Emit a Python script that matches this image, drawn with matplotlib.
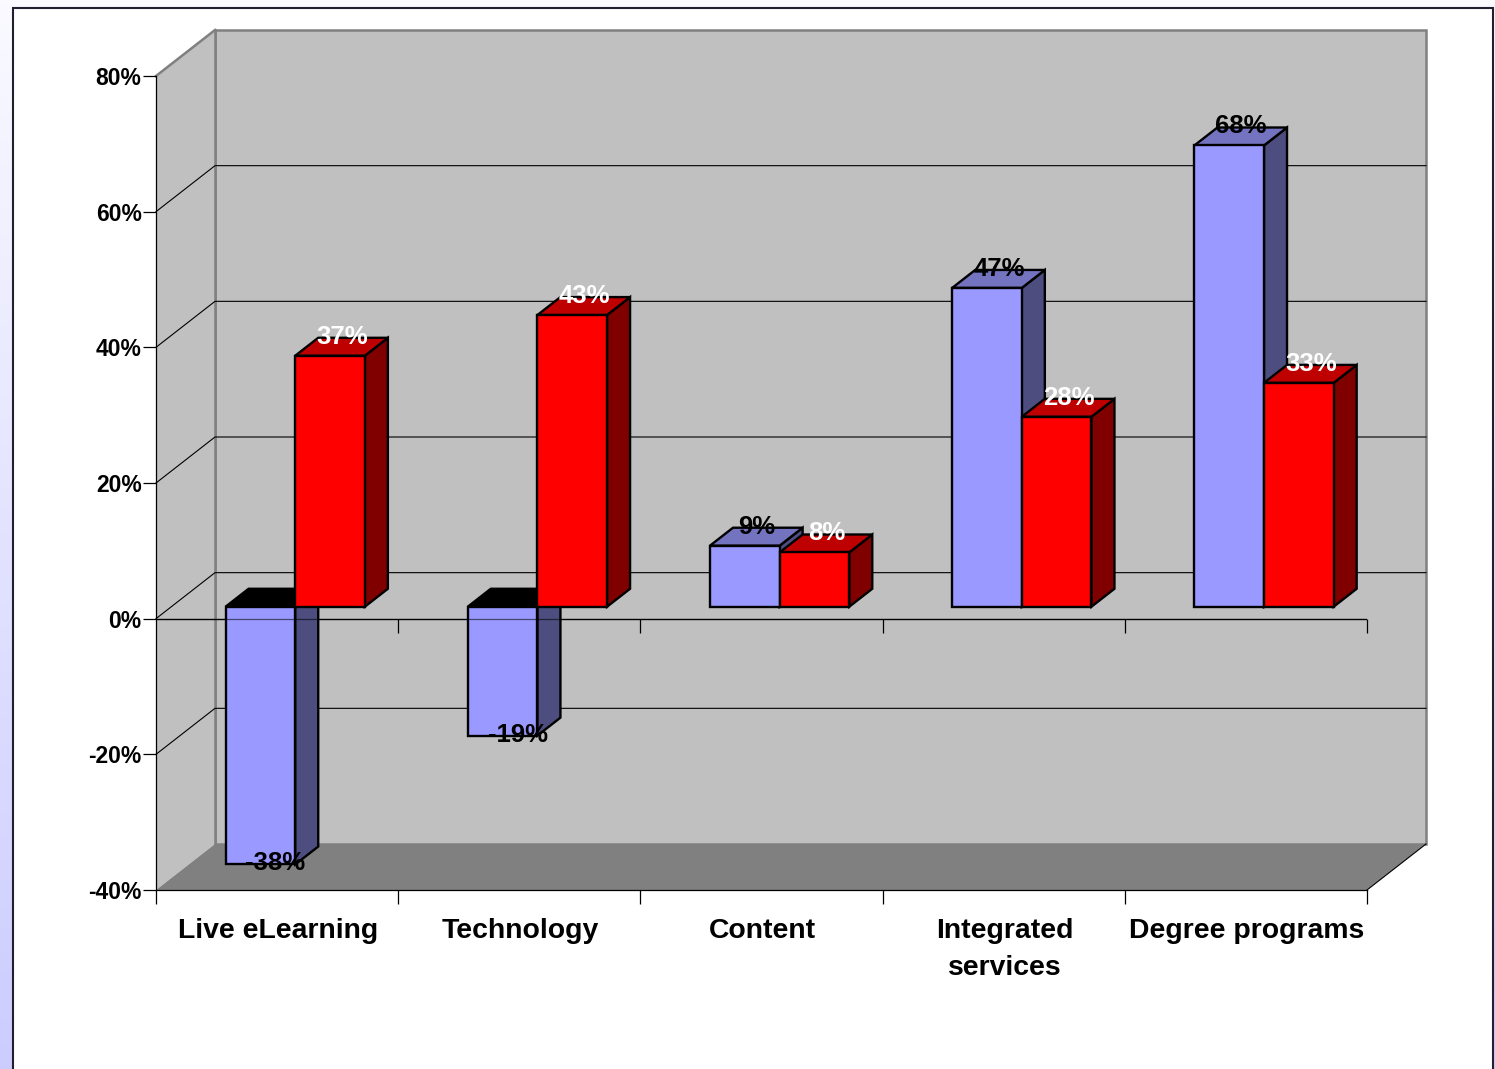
import numpy as np
import matplotlib
matplotlib.use("Agg")
from matplotlib import pyplot as plt
from matplotlib.patches import Polygon

plt.rcParams['font.family'] = ['Liberation Sans', 'DejaVu Sans']

categories = ['Live eLearning', 'Technology', 'Content', 'Integrated\nservices', 'Degree programs']
series_a = [-38, -19, 9, 47, 68]
series_b = [37, 43, 8, 28, 33]
y_ticks = [-40, -20, 0, 20, 40, 60, 80]

# 3D look: how far the back wall sits from the front plane, in data units
DEPTH_X = 59 * 5 / 1211
DEPTH_Y = 46 * 120 / 814

BAR_W = 0.2875
BAR_GAP = 0.224
BAR_FRONT = 0.26
BAR_BACK = 0.65


def proj(x, y, d):
    return (x + d * DEPTH_X, y + d * DEPTH_Y)


def add_poly(ax, points, face, edge='none', lw=0.0, z=2):
    ax.add_patch(Polygon(points, closed=True, facecolor=face, edgecolor=edge,
                         linewidth=lw, zorder=z, clip_on=False, joinstyle='miter'))


def draw_walls(ax):
    # back wall, side wall and floor
    add_poly(ax, [proj(0, -40, 1), proj(5, -40, 1), proj(5, 80, 1), proj(0, 80, 1)],
             '#C0C0C0', '#808080', 1.8, 1)
    add_poly(ax, [proj(0, -40, 0), proj(0, -40, 1), proj(0, 80, 1), proj(0, 80, 0)],
             '#C0C0C0', 'none', 0, 1)
    add_poly(ax, [proj(0, -40, 0), proj(5, -40, 0), proj(5, -40, 1), proj(0, -40, 1)],
             '#808080', 'none', 0, 1.2)

    ax.plot(*zip(proj(0, 80, 0), proj(0, 80, 1)), color='#808080', lw=1.8, zorder=1.4, clip_on=False)
    ax.plot(*zip(proj(0, -40, 1), proj(0, 80, 1)), color='#808080', lw=1.8, zorder=1.3, clip_on=False)
    ax.plot(*zip(proj(5, -40, 0), proj(5, -40, 1)), color='black', lw=0.8, zorder=1.4, clip_on=False)

    for v in y_ticks[1:-1]:
        ax.plot(*zip(proj(0, v, 0), proj(0, v, 1), proj(5, v, 1)),
                color='black', lw=0.8, zorder=1.5, clip_on=False)


def draw_bar(ax, x, value, front, top, side, z):
    x0, x1 = x + BAR_GAP, x + BAR_GAP + BAR_W
    edge = dict(edge='black', lw=1.7, z=z)
    # the side face runs between the bar's base and its value
    add_poly(ax, [proj(x1, 0, BAR_FRONT), proj(x1, 0, BAR_BACK),
                  proj(x1, value, BAR_BACK), proj(x1, value, BAR_FRONT)], side, **edge)
    # top face is black where the bar hangs below zero
    cap = max(value, 0)
    cap_color = 'black' if value < 0 else top
    add_poly(ax, [proj(x0, cap, BAR_FRONT), proj(x1, cap, BAR_FRONT),
                  proj(x1, cap, BAR_BACK), proj(x0, cap, BAR_BACK)], cap_color, **edge)
    add_poly(ax, [proj(x0, 0, BAR_FRONT), proj(x1, 0, BAR_FRONT),
                  proj(x1, value, BAR_FRONT), proj(x0, value, BAR_FRONT)], front, **edge)


def draw_value(ax, x, value, color):
    x_mid = x + BAR_GAP + BAR_W / 2
    anchor = proj(x_mid, value, BAR_FRONT)
    offset = (12, 19) if value > 0 else (15, 1)
    ax.annotate(f'{value}%', xy=anchor, xytext=offset, textcoords='offset pixels',
                ha='center', va='center', fontsize=18.5, fontweight='bold', color=color,
                zorder=10, annotation_clip=False)


def main():
    fig = plt.figure(figsize=(14.95, 10.69), dpi=100)

    # lavender backdrop fading down the page, white panel on top
    bg = fig.add_axes([0, 0, 1, 1], zorder=0)
    bg.axis('off')
    fade = np.linspace(0, 1, 256).reshape(-1, 1)
    low, high = np.array([0xFA, 0xFA, 0xFF]), np.array([0xCC, 0xCC, 0xFF])
    bg.imshow((low + (high - low) * fade[..., None]) / 255, aspect='auto',
              extent=[0, 1495, 1069, 0])
    bg.set_xlim(0, 1495)
    bg.set_ylim(1069, 0)
    bg.add_patch(plt.Rectangle((12.5, 7.5), 1480, 1075, facecolor='white',
                               edgecolor='#202030', linewidth=1.5))

    ax = fig.add_axes([156 / 1495, (1069 - 890) / 1069, 1211 / 1495, 814 / 1069], zorder=1)
    ax.patch.set_alpha(0)
    ax.set_xlim(0, 5)
    ax.set_ylim(-40, 80)

    draw_walls(ax)

    # value axis line along zero, with its own ticks
    ax.axhline(0, color='black', lw=0.9, zorder=1.6)
    ax.vlines(range(1, 6), -2.06, 0, color='black', lw=0.9, zorder=1.6, clip_on=False)
    # the same line shows faintly through the bars that hang below it
    ax.axhline(0, color='black', lw=0.9, alpha=0.55, zorder=5)

    for i in range(len(categories)):
        draw_bar(ax, i, series_a[i], '#9999FF', '#7373BF', '#4D4D80', 3)
        draw_bar(ax, i + BAR_W, series_b[i], '#FF0000', '#BF0000', '#800000', 4)
        draw_value(ax, i, series_a[i], 'black')
        draw_value(ax, i + BAR_W, series_b[i], 'white')

    for name in ['top', 'right']:
        ax.spines[name].set_visible(False)
    for name in ['left', 'bottom']:
        ax.spines[name].set_linewidth(0.9)
        ax.spines[name].set_zorder(1.7)

    ax.set_yticks(y_ticks, [f'{v}%' for v in y_ticks], fontsize=16.5, fontweight='bold')
    ax.tick_params(axis='y', length=9.4, width=0.9, pad=1)

    ax.set_xticks(range(6), [''] * 6)
    ax.tick_params(axis='x', which='major', length=10, width=0.9)
    ax.set_xticks(np.arange(5) + 0.505, categories, minor=True, fontsize=20.4, fontweight='bold')
    ax.tick_params(axis='x', which='minor', length=0, pad=20)
    for label in ax.get_xticklabels(minor=True):
        label.set_linespacing(1.55)

    fig.savefig('out.png', dpi=100)


main()
